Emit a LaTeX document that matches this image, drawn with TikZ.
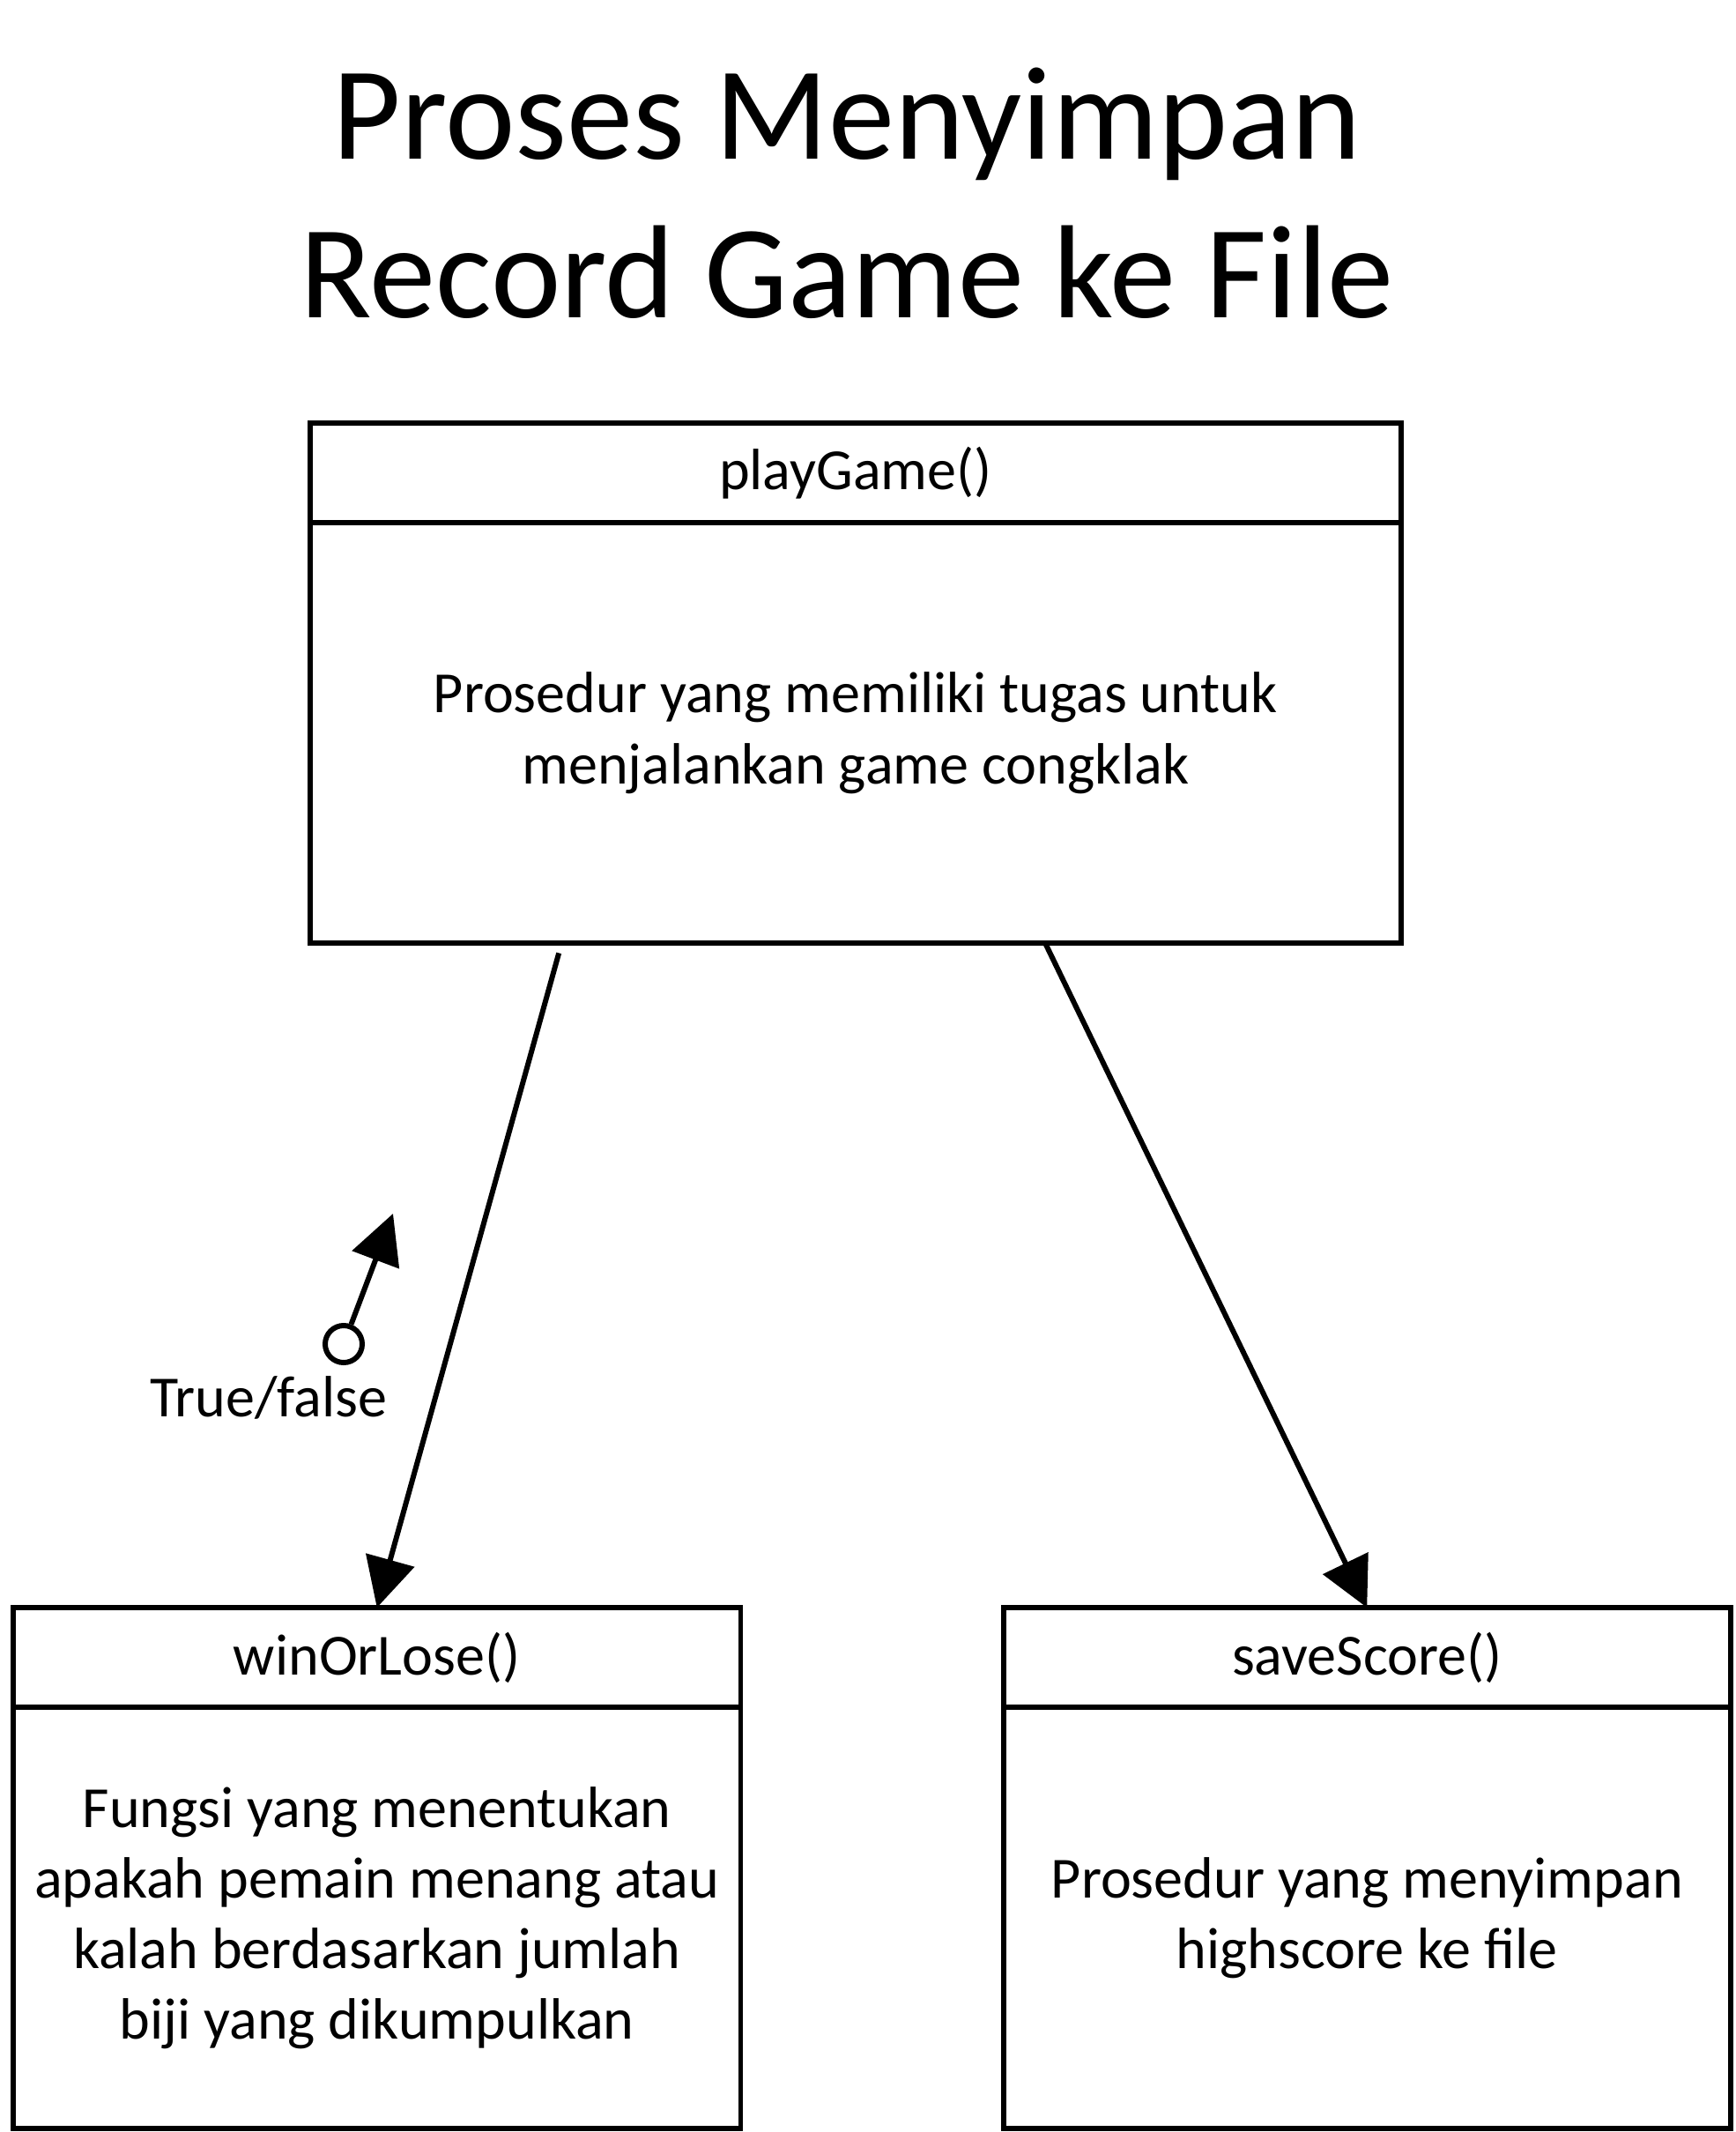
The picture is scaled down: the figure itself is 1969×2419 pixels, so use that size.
\documentclass[tikz,border=0pt]{standalone}
\usepackage{fontspec}
\setmainfont{Carlito}
\usepackage{tikz}
\usetikzlibrary{arrows.meta,positioning,shapes,calc}

\begin{document}
\begin{tikzpicture}[x=0.01cm, y=-0.01cm,
    head/.style={draw, line width=1.7pt, outer sep=0pt, inner sep=0pt, minimum height=1.13cm, font=\fontsize{18.8}{22.8}\selectfont},
    body/.style={draw, line width=1.7pt, outer sep=0pt, inner sep=0pt, minimum height=4.78cm, align=center, font=\fontsize{18.8}{22.8}\selectfont},
    call/.style={line width=1.7pt, -{Triangle[length=0.56cm, width=0.56cm]}}]
    \useasboundingbox (0,0) rectangle (1969,2419);

    % Title
    \node[anchor=base, font=\fontsize{42.8}{51}\selectfont] (title) at (961,181) {Proses Menyimpan};
    \node[anchor=base, font=\fontsize{42.8}{51}\selectfont] (title2) at (961,361) {Record Game ke File};

    % playGame()
    \node[head, minimum width=12.37cm, anchor=north west] (playhead) at (352,480) {playGame()};
    \node[body, minimum width=12.37cm, minimum height=4.77cm, below=0pt of playhead] (playbody) {Prosedur yang memiliki tugas untuk\\menjalankan game congklak};

    % winOrLose()
    \node[head, minimum width=8.25cm, anchor=north west] (winhead) at (15,1824) {winOrLose()};
    \node[body, minimum width=8.25cm, below=0pt of winhead] (winbody) {Fungsi yang menentukan\\apakah pemain menang atau\\kalah berdasarkan jumlah\\biji yang dikumpulkan};

    % saveScore()
    \node[head, minimum width=8.24cm, anchor=north west] (savehead) at (1139,1824) {saveScore()};
    \node[body, minimum width=8.24cm, below=0pt of savehead] (savebody) {Prosedur yang menyimpan\\highscore ke file};

    % Calls
    \coordinate (playout1) at ($(playbody.south west)!0.228!(playbody.south east)+(0,11)$);
    \coordinate (playout2) at ($(playbody.south west)!0.674!(playbody.south east)$);
    \draw[call] (playout1) -- (winhead.north);
    \draw[call] (playout2) -- (savehead.north);

    % Return value
    \node[draw, circle, line width=1.7pt, inner sep=0pt, minimum size=0.42cm] (ret) at (390,1525) {};
    \coordinate (rettip) at (446,1377);
    \draw[call] (ret) -- (rettip);
    \node[anchor=base, font=\fontsize{18.8}{22.8}\selectfont] (retlabel) at (305,1607) {True/false};
\end{tikzpicture}
\end{document}
